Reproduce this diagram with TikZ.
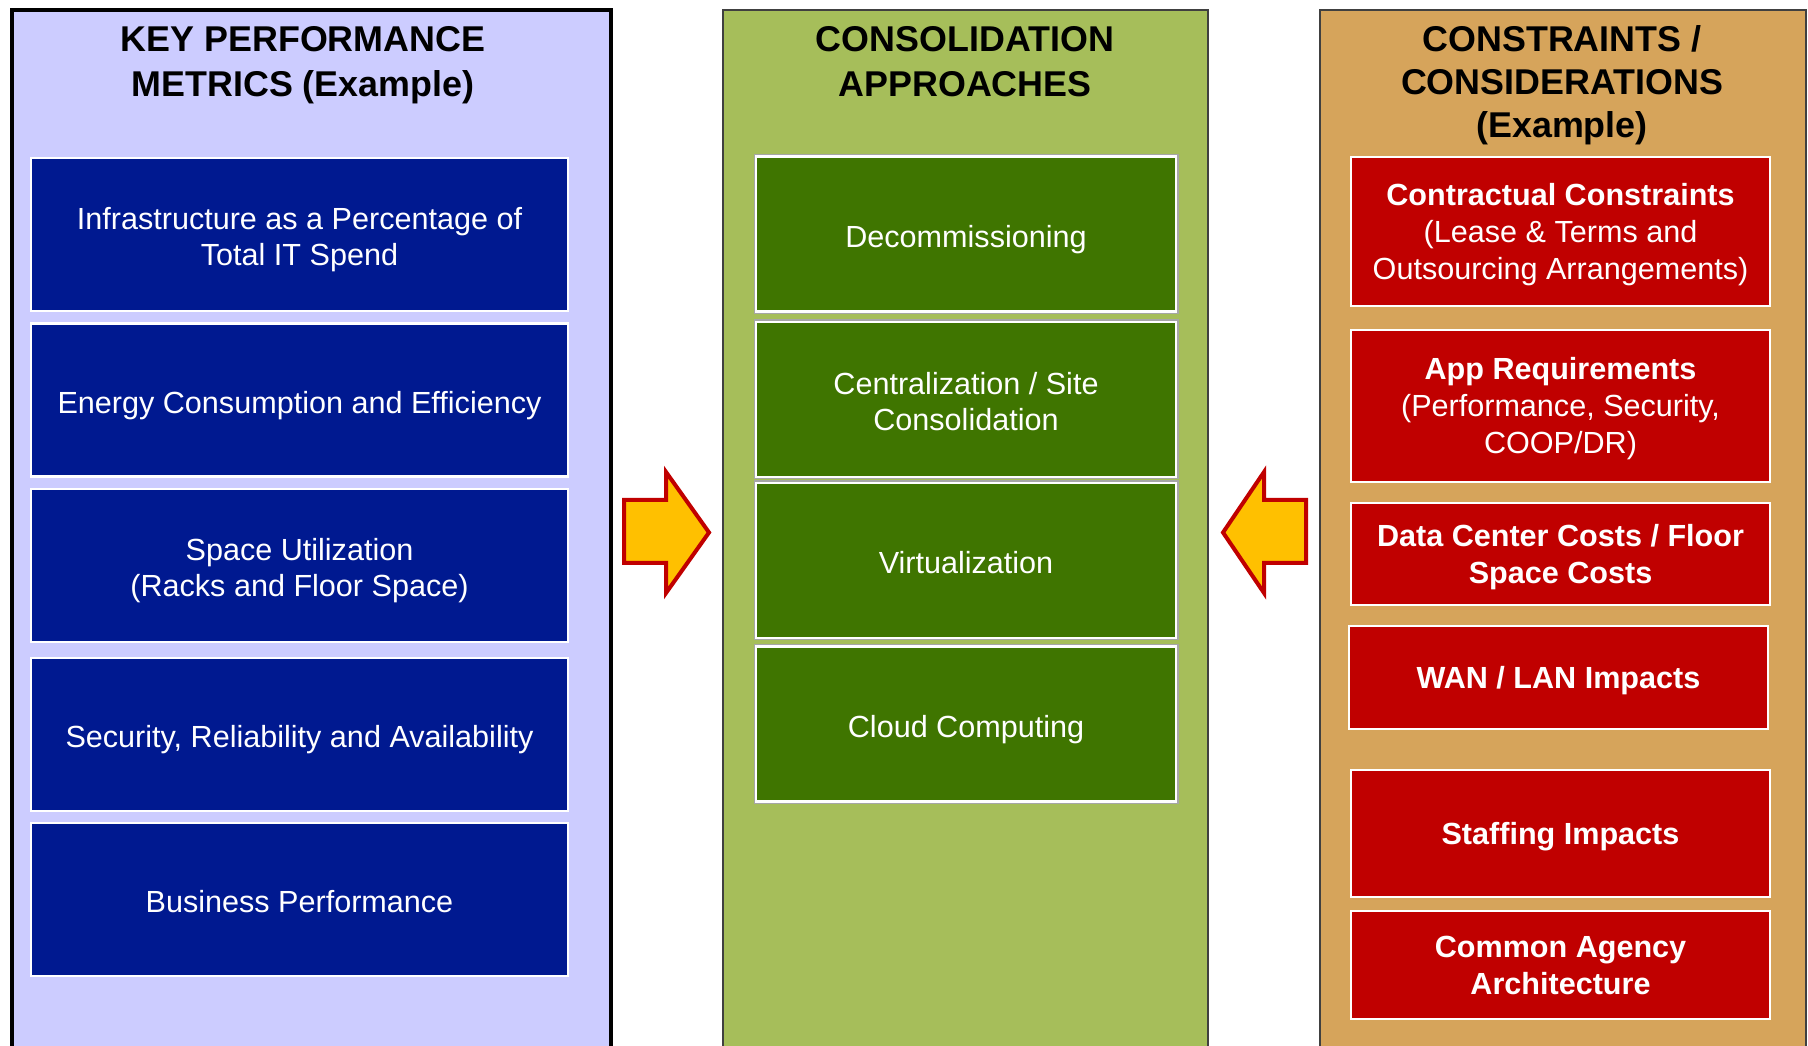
\documentclass[tikz,border=0pt]{standalone}
\usepackage{fontspec}
\setmainfont{Liberation Sans}
\usepackage{tikz}
\usetikzlibrary{positioning}
\definecolor{KPMLav}{HTML}{CCCCFF}
\definecolor{KPMBlue}{HTML}{001990}
\definecolor{CAPale}{HTML}{A6BE5A}
\definecolor{CAGreen}{HTML}{3F7500}
\definecolor{CCTan}{HTML}{D6A45B}
\definecolor{CCRed}{HTML}{C00000}
\definecolor{ArrowGold}{HTML}{FFC000}

\begin{document}
\begin{tikzpicture}[
            y=-1cm,
            panel/.style={anchor=north,minimum width=#1,minimum height=10.6cm,inner sep=0pt},
            heading/.style={align=center,text=black,
              font=\fontsize{10.2}{12.8}\selectfont\bfseries},
            cell/.style={align=flush center,text=white,inner sep=0pt,draw=white,line width=0.025cm,
              execute at begin node={\noindent\vrule height #1 depth 0pt width 0pt},
              execute at end node={\vrule height 0pt depth 2pt width 0pt}},
            metric/.style={cell=9.5pt,fill=KPMBlue,minimum width=5.37cm,minimum height=1.53cm,
              text width=5.2cm,font=\fontsize{8.7}{10.1}\selectfont},
            approach/.style={cell=9.5pt,fill=CAGreen,minimum width=4.20cm,minimum height=1.55cm,
              text width=4.1cm,font=\fontsize{8.7}{10.1}\selectfont,
              preaction={draw=black!35,line width=0.05cm}},
            constraint/.style={cell=8.2pt,fill=CCRed,minimum width=4.19cm,text width=4.1cm,
              font=\fontsize{8.7}{10.5}\selectfont},
            blockarrow/.style={draw=CCRed,fill=ArrowGold,line width=0.04cm}
          ]
          \clip (0,0) rectangle (18.08,10.46);
          \fill[white] (0,0) rectangle (18.08,10.46);
          % three columns
          \node[panel=5.99cm,fill=KPMLav,draw=black,line width=0.04cm] (kpm) at (3.115,0.085) {};
          \node[panel=4.85cm,fill=CAPale,draw=black!75,line width=0.02cm] (ca) at (9.655,0.09) {};
          \node[panel=4.86cm,fill=CCTan,draw=black!75,line width=0.02cm] (cc) at (15.63,0.09) {};
          \node[heading] (kpmhead) at (3.03,0.65) {KEY PERFORMANCE\\METRICS (Example)};
          \node[heading] (cahead) at (9.65,0.615) {CONSOLIDATION\\APPROACHES};
          \node[heading,font=\fontsize{10.2}{12.3}\selectfont\bfseries] (cchead) at (15.62,0.855)
            {CONSTRAINTS /\\CONSIDERATIONS\\(Example)};
          % metrics
          \node[metric] (infra) at (2.995,2.345) {Infrastructure as a Percentage of\\Total IT Spend};
          \node[metric] (energy) at (2.995,4.00) {Energy Consumption and Efficiency};
          \node[metric] (space) at (2.995,5.655) {Space Utilization\\(Racks and Floor Space)};
          \node[metric] (secure) at (2.995,7.345) {Security, Reliability and Availability};
          \node[metric] (business) at (2.995,8.995) {Business Performance};
          % approaches
          \node[approach] (decom) at (9.66,2.34) {Decommissioning};
          \node[approach] (central) at (9.66,3.995) {Centralization / Site\\Consolidation};
          \node[approach] (virtual) at (9.66,5.605) {Virtualization};
          \node[approach] (cloud) at (9.66,7.24) {Cloud Computing};
          % constraints
          \node[constraint,minimum height=1.49cm] (contract) at (15.605,2.315)
            {\textbf{Contractual Constraints}\\(Lease \& Terms and\\Outsourcing Arrangements)};
          \node[constraint,minimum height=1.52cm] (apps) at (15.605,4.06)
            {\textbf{App Requirements}\\(Performance, Security,\\COOP/DR)};
          \node[constraint,minimum height=1.02cm] (dccost) at (15.605,5.54)
            {\textbf{Data Center Costs / Floor}\\\textbf{Space Costs}};
          \node[constraint,minimum height=1.03cm] (wan) at (15.585,6.775) {\textbf{WAN / LAN Impacts}};
          \node[constraint,minimum height=1.27cm] (staff) at (15.605,8.335) {\textbf{Staffing Impacts}};
          \node[constraint,minimum height=1.08cm] (common) at (15.605,9.65)
            {\textbf{Common Agency}\\\textbf{Architecture}};
          % arrows into the approaches
          \draw[blockarrow] (6.24,5.00) -- (6.66,5.00) -- (6.66,4.72) -- (7.09,5.325)
            -- (6.66,5.93) -- (6.66,5.63) -- (6.24,5.63) -- cycle;
          \draw[blockarrow] (13.06,5.00) -- (12.64,5.00) -- (12.64,4.72) -- (12.23,5.325)
            -- (12.64,5.93) -- (12.64,5.63) -- (13.06,5.63) -- cycle;
        \end{tikzpicture}
\end{document}
